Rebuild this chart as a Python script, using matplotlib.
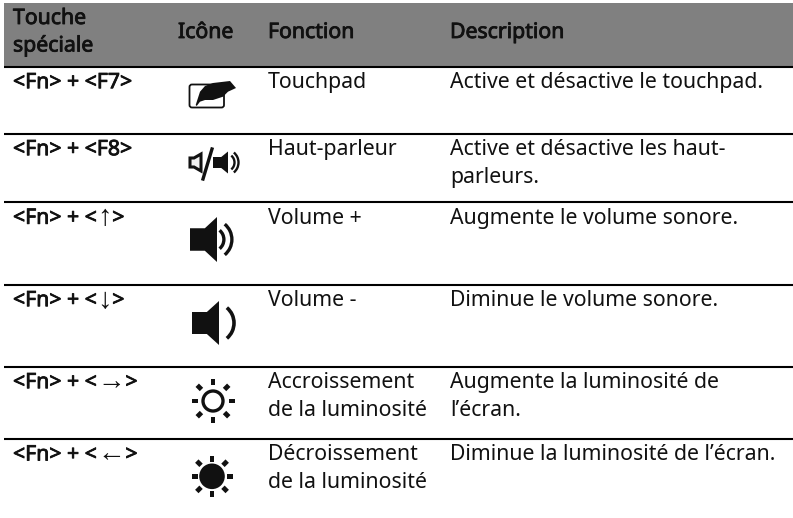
import matplotlib
matplotlib.use('agg')
import matplotlib.pyplot as plt
import matplotlib.patheffects as pe
from matplotlib.patches import Polygon, Circle, Arc, FancyBboxPatch, Rectangle
from matplotlib.transforms import Affine2D
import numpy as np

plt.rcParams['font.family'] = ['Noto Sans', 'DejaVu Sans']

headers = ["Touche\nspéciale", "Icône", "Fonction", "Description"]
key_names = ["F7", "F8", "↑", "↓", "→", "←"]
functions = ["Touchpad", "Haut-parleur", "Volume +", "Volume -",
             "Accroissement\nde la luminosité", "Décroissement\nde la luminosité"]
descriptions = ["Active et désactive le touchpad.",
                "Active et désactive les haut-\nparleurs.",
                "Augmente le volume sonore.",
                "Diminue le volume sonore.",
                "Augmente la luminosité de\nl’écran.",
                "Diminue la luminosité de l’écran."]
rule_ys = [66.7, 133.7, 202.3, 284.7, 366.7, 439]

W, H = 793, 518
fig = plt.figure(figsize=(W / 100, H / 100), dpi=100)
ax = fig.add_axes([0, 0, 1, 1])
ax.set_xlim(0, W)
ax.set_ylim(H, 0)
ax.axis('off')

LEFT, RIGHT = 4, 793
col_x = [13, 178, 268, 450]
FS = 15.3
LINE_H = 27.5
INK = '#111111'
BOLD = [pe.withStroke(linewidth=0.6, foreground=INK)]

ax.add_patch(Rectangle((LEFT, 3), RIGHT - LEFT, 63, fc='#808080', ec='none'))
for y in rule_ys:
    ax.plot([LEFT, RIGHT], [y, y], color='black', lw=1.5, solid_capstyle='butt')


def lines(x, y, s, bold=False):
    for n, part in enumerate(s.split("\n")):
        t = ax.text(x, y + n * LINE_H, part, fontsize=FS, color=INK, va='baseline')
        if bold:
            t.set_path_effects(BOLD)


def key_label(x, y, name):
    # arrows are thin and tall in the original, only the brackets are bold
    if name in "↑↓→←":
        t = ax.text(x, y, "<Fn> + <", fontsize=FS, color=INK, va='baseline', path_effects=BOLD)
        fig.canvas.draw()
        x2 = t.get_window_extent().x1
        upright = name in "↑↓"
        a = ax.text(x2 + 0.5, y + (1.5 if upright else 1), name,
                    fontsize=21 if upright else 20, color=INK, va='baseline', family='Liberation Sans')
        x3 = a.get_window_extent().x1 + 0.5
        ax.text(x3, y, ">", fontsize=FS, color=INK, va='baseline', path_effects=BOLD)
    else:
        lines(x, y, "<Fn> + <" + name + ">", bold=True)


lines(col_x[0], 24, headers[0], bold=True)
for x, h in zip(col_x[1:], headers[1:]):
    lines(x, 38, h, bold=True)

for i, y in enumerate(rule_ys):
    key_label(col_x[0], y + 21.5, key_names[i])
    lines(col_x[2], y + 21.5, functions[i])
    lines(col_x[3], y + 21.5, descriptions[i])


def speaker(x, y, w, s, waves):
    # x, y is the left middle of the box, w the width up to the apex, s the half height
    neck = x + 0.55 * w
    ax.add_patch(Polygon([(x, y - 0.5 * s), (neck, y - 0.5 * s), (x + w, y - s),
                          (x + w, y + s), (neck, y + 0.5 * s), (x, y + 0.5 * s)],
                         fc=INK, ec='none'))
    for r, lw in waves:
        cx = x + w - 5 * s / 22
        ax.add_patch(Arc((cx, y), 2 * r, 2 * r, theta1=-50, theta2=50, color=INK, lw=lw))


def sun(x, y, filled):
    if filled:
        ax.add_patch(Circle((x, y), 12.8, fc=INK, ec='none'))
        d_cross, d_diag, ln = 17.5, 18.5, 6
    else:
        ax.add_patch(Circle((x, y), 10, fc='white', ec=INK, lw=2.4))
        d_cross, d_diag, ln = 18.5, 19.3, 6
    for a in np.arange(0, 360, 45):
        t = np.radians(a)
        d = d_cross if a % 90 == 0 else d_diag
        px, py = x + d * np.cos(t), y + d * np.sin(t)
        ax.add_patch(Rectangle((px - ln / 2, py - 2.4), ln, 4.8, fc=INK, ec='none',
                               transform=Affine2D().rotate_deg_around(px, py, a) + ax.transData))


# touchpad icon
ax.add_patch(FancyBboxPatch((189.5, 84.5), 34.5, 23, boxstyle='round,pad=0,rounding_size=2.5',
                            fc='white', ec=INK, lw=1.3))
ax.add_patch(Polygon([(195.7, 105), (200, 91.7), (205, 86), (213, 83), (230, 81), (236, 88),
                      (228, 91.7), (223, 96.7), (213, 100), (205, 100), (200, 101.7), (196.7, 106)],
                     fc=INK, ec='none'))

# speaker on/off icon
ax.add_patch(Polygon([(190, 158), (194, 158), (201, 154), (201, 171), (194, 167), (190, 167)],
                     fc='#f0f0f0', ec=INK, lw=2.2))
ax.plot([203, 212], [179, 149], color=INK, lw=2.4)
speaker(213, 162.5, 15, 11, [(9, 1.7), (13, 1.7)])

speaker(190, 239.5, 27, 22.5, [(12, 2.4), (20, 2.4)])
speaker(192, 323, 27, 22, [(20, 2.6)])
sun(213, 401, False)
sun(212, 476.3, True)

fig.savefig('out.png', dpi=100)
